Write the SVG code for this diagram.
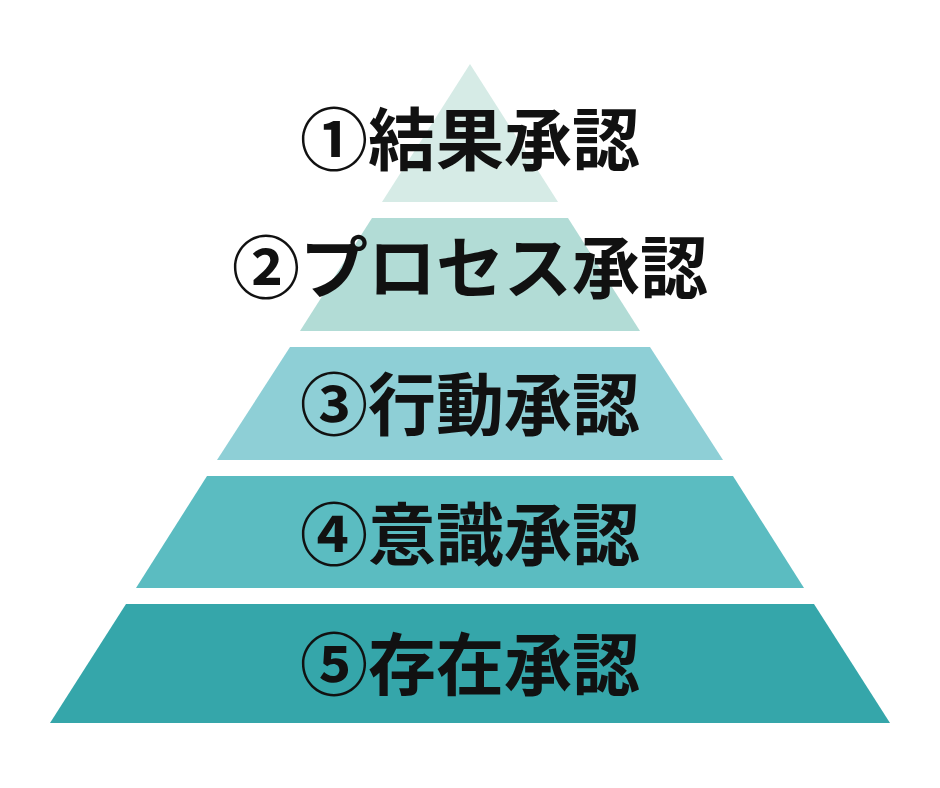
<svg xmlns="http://www.w3.org/2000/svg" width="940" height="788" viewBox="0 0 940 788">
<style>
text{font-family:"Noto Sans CJK JP","Noto Sans",sans-serif;font-weight:bold;font-size:68px;fill:#111;text-anchor:middle}
</style>
<rect width="940" height="788" fill="#fff"/>
<g id="layer1"><polygon points="470,64 558,202 382,202" fill="#d6ebe6"/><text x="470" y="165">①結果承認</text></g>
<g id="layer2"><polygon points="372,218 568,218 640,331 300,331" fill="#b2dcd6"/><text x="470" y="293">②プロセス承認</text></g>
<g id="layer3"><polygon points="290,347 650,347 723,460 217,460" fill="#8ecfd6"/><text x="470" y="430">③行動承認</text></g>
<g id="layer4"><polygon points="207,476 733,476 804,588 136,588" fill="#5bbcc1"/><text x="470" y="560">④意識承認</text></g>
<g id="layer5"><polygon points="126,604 814,604 890,723 50,723" fill="#35a6aa"/><text x="470" y="690">⑤存在承認</text></g>
<g id="connectors"/>
</svg>
